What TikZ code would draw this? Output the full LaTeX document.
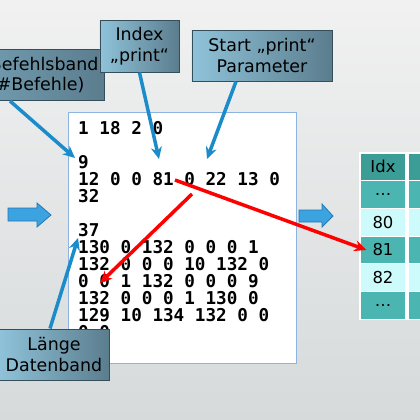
\documentclass[tikz,border=0pt]{standalone}
\usepackage{fontspec}
\setmainfont{DejaVu Sans}
\setmonofont{DejaVu Sans Mono}
\usetikzlibrary{arrows.meta}
\definecolor{bgtop}{HTML}{F1F1F1}
\definecolor{bgbot}{HTML}{D6DADB}
\definecolor{calloutL}{HTML}{8FC3DA}
\definecolor{calloutR}{HTML}{5B7D8E}
\definecolor{calloutrim}{HTML}{344E5A}
\definecolor{pointerblue}{HTML}{1B8BC9}
\definecolor{blockfill}{HTML}{3BA3E0}
\definecolor{blockrim}{HTML}{2477B3}
\definecolor{tblhead}{HTML}{3C9D97}
\definecolor{tbldark}{HTML}{4BB6B1}
\definecolor{tbllight}{HTML}{CDFBFB}
\definecolor{codeframe}{HTML}{8DB3E2}

\begin{document}
\begin{tikzpicture}[x=1bp,y=-1bp,font=\fontsize{17.5}{21}\selectfont,
  callout/.style={draw=calloutrim,line width=1pt,left color=calloutL,right color=calloutR,
    align=center,inner sep=0pt,minimum height=51bp},
  pointer/.style={draw=pointerblue,line width=3.5bp,-{Stealth[length=12bp,width=11bp]}},
  redline/.style={draw=red,line width=3.5bp,-{Stealth[length=12bp,width=11bp]}},
  codeline/.style={anchor=base west,inner sep=0pt,font=\fontsize{17.7}{17}\selectfont\ttfamily\bfseries},
  cell/.style={draw=white,line width=1.2pt,minimum width=46bp,minimum height=27.7bp,inner sep=0pt,
    font=\fontsize{16.5}{18}\selectfont}]
\useasboundingbox (0,0) rectangle (420,420);
\clip (0,0) rectangle (420,420);
\fill[top color=bgtop,bottom color=bgbot] (0,0) rectangle (420,420);

% code listing
\draw[fill=white,draw=codeframe,line width=1pt] (68,112) rectangle (296,363);
\foreach \txt/\yy in {1 18 2 0/134,9/168,12 0 0 81 0 22 13 0/185,32/202,37/236,
    130 0 132 0 0 0 1/253,132 0 0 0 10 132 0/270,0 0 1 132 0 0 0 9/287,
    132 0 0 0 1 130 0/304,129 10 134 132 0 0/321,0 0/338}
  \node[codeline] at (78,\yy) {\txt};

% block arrows
\draw[fill=blockfill,draw=blockrim,line width=.8pt] (8,208) -- (37,208) -- (37,203) -- (51,215)
  -- (37,227) -- (37,221) -- (8,221) -- cycle;
\draw[fill=blockfill,draw=blockrim,line width=.8pt] (299,210) -- (322,210) -- (322,204) -- (333,216)
  -- (322,227) -- (322,222) -- (299,222) -- cycle;

% table
\foreach \lbl/\col [count=\i] in {Idx/tblhead,\dots/tbldark,80/tbllight,81/tbldark,82/tbllight,\dots/tbldark}{
  \node[cell,fill=\col] (r\i) at (383,{153+13.85+(\i-1)*27.7}) {\lbl};
  \node[cell,fill=\col] (s\i) at (431,{153+13.85+(\i-1)*27.7}) {};
}

% callouts
\node[callout,left color=calloutL!45!calloutR,minimum width=124bp,text width=104bp,align=left] (befehl) at (42,75) {Befehlsband\\(\#Befehle)};
\node[callout,minimum width=79bp,minimum height=52bp] (index) at (139.5,46) {Index\\„print“};
\node[callout,minimum width=140bp] (start) at (262,55.5) {Start „print“\\Parameter};
\node[callout,minimum width=110bp] (laenge) at (54,354.5) {Länge\\Datenband};

\coordinate (nine) at (75,158);
\coordinate (eightyone) at (159,159);
\coordinate (params) at (207,159);
\coordinate (seven) at (78,238);
\coordinate (from81) at (175,180);
\coordinate (fromzero) at (192,194);
\coordinate (intozero) at (100,283);

\draw[pointer] ([xshift=-32bp]befehl.south) -- (nine);
\draw[pointer] (index.south) -- (eightyone);
\draw[pointer] ([xshift=-26bp]start.south) -- (params);
\draw[pointer] ([xshift=-4bp]laenge.north) -- (seven);

\draw[redline] (from81) -- ([xshift=7bp]r4.west);
\draw[redline] (fromzero) -- (intozero);
\end{tikzpicture}
\end{document}
